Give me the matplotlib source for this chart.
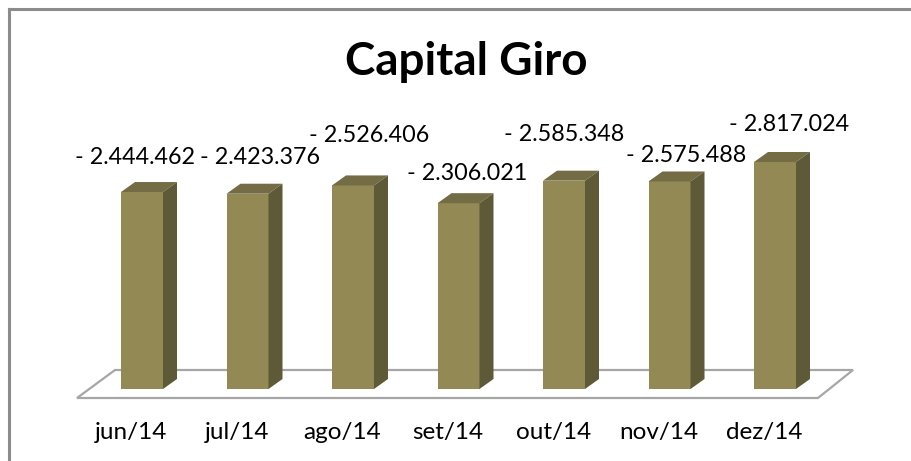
import numpy as np
import matplotlib.pyplot as plt
from matplotlib.patches import Polygon

# dados
meses = ['jun/14', 'jul/14', 'ago/14', 'set/14', 'out/14', 'nov/14', 'dez/14']
valores = [-2444462, -2423376, -2526406, -2306021, -2585348, -2575488, -2817024]
rotulos = ['- 2.444.462', '- 2.423.376', '- 2.526.406', '- 2.306.021',
           '- 2.585.348', '- 2.575.488', '- 2.817.024']
# posicao dos rotulos (deslocamento em x, altura em valor)
rot_dx = [-0.07, 0.12, 0.15, 0.08, 0.0, 0.16, 0.13]
rot_y = [2870000, 2870000, 3150000, 2680000, 3160000, 2900000, 3280000]

cor_frente = '#938955'
cor_topo = '#736C45'
cor_lado = '#5E5936'

px = 105.5          # pixels por categoria
vpx = 12410.0       # valor por pixel
larg = 42 / px
dx = 14 / px
dy = 10 * vpx

fig = plt.figure(figsize=(9.11, 4.61), dpi=100)
ax = fig.add_axes([0, 0, 1, 1])
ax.set_xlim(-142 / px, (911 - 142) / px)
ax.set_ylim(-(461 - 389) * vpx, 389 * vpx)
ax.axis('off')

# chao
chao = Polygon([(-65 / px, -9 * vpx), (676 / px, -9 * vpx),
                (711 / px, 19 * vpx), (-27 / px, 19 * vpx)],
               closed=True, facecolor='white', edgecolor='#A6A6A6', lw=1.6, zorder=1)
ax.add_patch(chao)

x = np.arange(len(meses))
h = np.abs(np.array(valores))
ax.bar(x, h, width=larg, color=cor_frente, zorder=3)
for i in range(len(x)):
    x0 = x[i] - larg / 2
    x1 = x[i] + larg / 2
    topo = Polygon([(x0, h[i]), (x1, h[i]), (x1 + dx, h[i] + dy), (x0 + dx, h[i] + dy)],
                   closed=True, facecolor=cor_topo, edgecolor='none', zorder=3)
    lado = Polygon([(x1, 0), (x1 + dx, dy), (x1 + dx, h[i] + dy), (x1, h[i])],
                   closed=True, facecolor=cor_lado, edgecolor='none', zorder=3)
    ax.add_patch(topo)
    ax.add_patch(lado)
    ax.text(x[i] + rot_dx[i], rot_y[i], rotulos[i], ha='center', va='center',
            fontsize=16.8, family='Lato', zorder=4)
    ax.text(x[i] - 0.1, -43 * vpx, meses[i], ha='center', va='center',
            fontsize=17.5, family='Lato', zorder=4)

ax.text(3.07, 327 * vpx, 'Capital Giro', ha='center', va='center',
        fontsize=33, fontweight='bold', family='Lato')

# moldura (so topo e esquerda aparecem)
fig.add_artist(plt.Line2D([8.5 / 911, 1], [1 - 9.5 / 461, 1 - 9.5 / 461],
                          color='#8C8C8C', lw=2.2, transform=fig.transFigure))
fig.add_artist(plt.Line2D([8.5 / 911, 8.5 / 911], [0, 1 - 9.5 / 461],
                          color='#8C8C8C', lw=2.2, transform=fig.transFigure))

fig.savefig('out.png', dpi=100)
